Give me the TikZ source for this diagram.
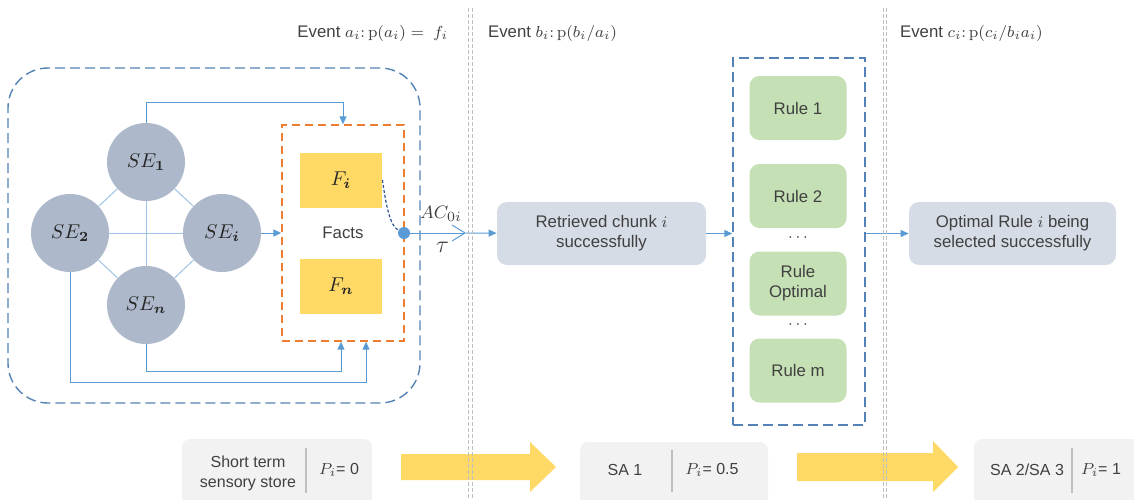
\documentclass[tikz,border=0pt]{standalone}
\usepackage[no-math]{fontspec}
\setmainfont{Liberation Sans}
\usepackage{bm}
\usetikzlibrary{arrows.meta}
\definecolor{txtgray}{RGB}{64,64,64}
\definecolor{boxblue}{RGB}{84,130,180}
\definecolor{lineblue}{RGB}{91,155,213}
\definecolor{linklight}{RGB}{157,195,230}
\definecolor{segray}{RGB}{173,185,202}
\definecolor{factorange}{RGB}{237,125,49}
\definecolor{factyellow}{RGB}{255,217,102}
\definecolor{rulegreen}{RGB}{197,224,180}
\definecolor{chunkgray}{RGB}{214,220,229}
\definecolor{stategray}{RGB}{242,242,242}
\definecolor{sepgray}{RGB}{191,191,191}
\definecolor{curveblue}{RGB}{47,85,151}
\begin{document}
\begin{tikzpicture}[x=0.5pt,y=0.5pt,yscale=-1,xscale=1,
	font=\fontsize{8.4}{10}\selectfont, text=txtgray,
	sensor/.style={circle,fill=segray,minimum size=39pt,inner sep=0pt,font=\fontsize{10}{10}\selectfont,text=black!85},
	link/.style={draw=linklight,line width=0.5pt},
	arr/.style={draw=lineblue,line width=0.5pt,-{Triangle[length=4pt,width=3.5pt]}},
	bigbox/.style={draw=boxblue,line width=0.7pt,dash pattern=on 5pt off 2.5pt,rounded corners=20pt},
	factsbox/.style={draw=factorange,line width=0.7pt,dash pattern=on 4pt off 2.5pt,minimum width=61pt,minimum height=108pt},
	fact/.style={fill=factyellow,minimum width=41pt,minimum height=27.5pt,inner sep=0pt,font=\fontsize{10}{10}\selectfont,text=black!85},
	rulesbox/.style={draw=boxblue,line width=0.7pt,dash pattern=on 5pt off 2.5pt,minimum width=66pt,minimum height=183.5pt},
	rulebox/.style={fill=rulegreen,rounded corners=5pt,minimum width=48.5pt,minimum height=32pt,inner sep=0pt,align=center},
	chunkbox/.style={fill=chunkgray,rounded corners=5pt,minimum width=104.5pt,minimum height=31.5pt,inner sep=0pt,align=center},
	statebox/.style={fill=stategray,rounded corners=4pt,inner sep=0pt},
	statetext/.style={font=\fontsize{8}{10}\selectfont,align=center},
	divider/.style={draw=sepgray,line width=0.7pt},
	gapline/.style={draw=sepgray,line width=0.5pt,dash pattern=on 2pt off 1pt}]
	\clip (0,0) rectangle (1134,499);

	\node[anchor=east] (eva) at (455,33) {Event $a_i\colon\mathrm{p}(a_i) =\ f_i$};
	\node[anchor=west] (evb) at (481,33) {Event $b_i\colon\mathrm{p}(b_i/a_i)$};
	\node[anchor=west] (evc) at (893,33) {Event $c_i\colon\mathrm{p}(c_i/b_ia_i)$};

	\node[bigbox,minimum width=206pt,minimum height=167.5pt] (sensebox) at (214,235.5) {};
	\node[sensor] (se1) at (146,162) {$SE_{\bm{1}}$};
	\node[sensor] (se2) at (70,233) {$SE_{\bm{2}}$};
	\node[sensor] (sei) at (222,233) {$SE_{\bm{i}}$};
	\node[sensor] (sen) at (146,305) {$SE_{\bm{n}}$};
	\draw[link] (se1) -- (se2);
	\draw[link] (se1) -- (sei);
	\draw[link] (se2) -- (sen);
	\draw[link] (sei) -- (sen);
	\draw[link] (se1) -- (sen);
	\draw[link] (se2) -- (sei);

	\node[factsbox] (facts) at (343,233) {Facts};
	\node[fact] (fi) at (341,180) {$F_{\bm{i}}$};
	\node[fact] (fn) at (341,286) {$F_{\bm{n}}$};
	\draw[arr] (sei) -- (facts);
	\draw[arr] (se1.north) -- ++(0,-20) -| (facts.north);
	\draw[arr] (sen.south) -- ++(0,27) -| ([xshift=-1pt]facts.south);
	\draw[arr] (se2.south) -- ++(0,110) -| ([xshift=11.5pt]facts.south);

	\node[circle,fill=lineblue,minimum size=6pt,inner sep=0pt] (dot) at (404,233) {};
	\draw[curveblue,line width=0.6pt,dash pattern=on 1.5pt off 1pt] (fi.east) .. controls (386,205) and (390,226) .. (dot);
	\coordinate (tauend) at (466,233);
	\draw[draw=lineblue,line width=0.5pt,-{Straight Barb[length=6.5pt,width=8pt]}] (dot) -- node[pos=0.55,above=2pt] (ac) {\fontsize{9.5}{10}\selectfont$AC_{0i}$} node[pos=0.58,below=1pt] (tau) {\large$\tau$} (tauend);

	\node[chunkbox] (chunk) at (601.5,233.5) {Retrieved chunk $i$\\successfully};
	\draw[arr] (tauend) -- (chunk);

	\node[rulesbox] (rules) at (799,241.5) {};
	\node[rulebox] (r1) at (798,108) {Rule 1};
	\node[rulebox] (r2) at (798,196) {Rule 2};
	\node (dots1) at (798,238) {$\cdots$};
	\node[rulebox] (ropt) at (798,283.5) {Rule\\Optimal};
	\node (dots2) at (798,325) {$\cdots$};
	\node[rulebox] (rm) at (798,370.5) {Rule m};
	\draw[arr] (chunk.east) -- (chunk.east -| rules.west);

	\node[chunkbox,minimum width=103.5pt] (optimal) at (1012.5,233.5) {Optimal Rule $i$ being\\selected successfully};
	\draw[arr] (rules.east |- optimal.west) -- (optimal.west);

	\node[statebox,minimum width=95pt,minimum height=35.5pt] (sts) at (277,474.5) {};
	\node[statetext] (stslbl) at (248,473) {Short term\\sensory store};
	\node[statetext] (stsp) at (339,470) {$P_i$= 0};
	\draw[divider] (306,448) -- (306,493);

	\node[statebox,minimum width=94pt,minimum height=34pt] (sa1) at (674,476) {};
	\node[statetext] (sa1lbl) at (625,470) {SA 1};
	\node[statetext] (sa1p) at (712,470) {$P_i$= 0.5};
	\draw[divider] (672,450) -- (672,492);

	\node[statebox,minimum width=85pt,minimum height=35.5pt] (sa23) at (1059,474.5) {};
	\node[statetext] (sa23lbl) at (1027,470) {SA 2/SA 3};
	\node[statetext] (sa23p) at (1101,470) {$P_i$= 1};
	\draw[divider] (1072,448) -- (1072,493);

	\fill[factyellow] (401,454) -- (530,454) -- (530,442) -- (556,467) -- (530,492) -- (530,480) -- (401,480) -- cycle;
	\fill[factyellow] (797,453) -- (933,453) -- (933,441) -- (958,467) -- (933,492) -- (933,481) -- (797,481) -- cycle;

	\foreach \x in {468.5,472,883,886.5}
		\draw[gapline] (\x,8) -- (\x,499);
\end{tikzpicture}
\end{document}
